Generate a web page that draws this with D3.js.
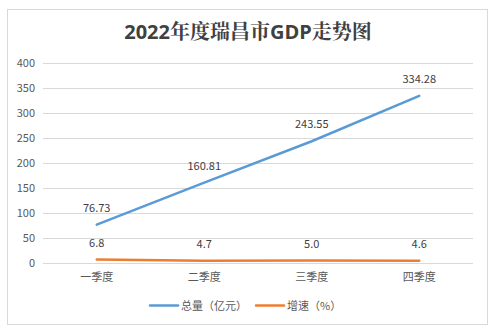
<!DOCTYPE html>
<html>
<head>
<meta charset="utf-8">
<script src="https://cdn.jsdelivr.net/npm/d3@7"></script>
<style>
  html, body { margin: 0; padding: 0; background: #fff; }
  svg { display: block; }
</style>
</head>
<body>
<svg id="chart" width="493" height="332"></svg>
<script>
// Quarterly GDP of Ruichang, 2022
const quarters = ["一季度", "二季度", "三季度", "四季度"];
const totalValues = [76.73, 160.81, 243.55, 334.28];   // 总量（亿元）
const growthValues = [6.8, 4.7, 5.0, 4.6];            // 增速（%）
const growthLabels = ["6.8", "4.7", "5.0", "4.6"];
const yTicks = [0, 50, 100, 150, 200, 250, 300, 350, 400];
const seriesNames = ["总量（亿元）", "增速（%）"];

const font = "'Microsoft YaHei','Noto Sans CJK SC','Noto Sans',sans-serif";
const svg = d3.select("#chart");

// outer frame
svg.append("rect")
  .attr("x", 7.5).attr("y", 9.5).attr("width", 480).attr("height", 315)
  .attr("fill", "#fff").attr("stroke", "#d9d9d9").attr("stroke-width", 1);

// title: sans digits/latin, song-style CJK
svg.append("text")
  .attr("x", 248).attr("y", 39)
  .attr("text-anchor", "middle")
  .attr("font-family", "'Open Sans','Noto Serif CJK SC','Noto Sans CJK SC',sans-serif")
  .attr("font-size", 20).attr("font-weight", "bold")
  .attr("fill", "#404040")
  .text("2022年度瑞昌市GDP走势图");

const plot = { left: 43, right: 473, top: 63, bottom: 263 };

const x = d3.scaleBand().domain(quarters).range([plot.left, plot.right]);
const y = d3.scaleLinear().domain([0, 400]).range([plot.bottom, plot.top]);

// gridlines
svg.append("g").selectAll("line").data(yTicks).join("line")
  .attr("x1", plot.left).attr("x2", plot.right)
  .attr("y1", d => Math.round(y(d)) + 0.5).attr("y2", d => Math.round(y(d)) + 0.5)
  .attr("stroke", "#d9d9d9").attr("stroke-width", 1);

// y axis labels
const yAxis = d3.axisLeft(y).tickValues(yTicks).tickSize(0).tickPadding(8);
const gy = svg.append("g").attr("transform", `translate(${plot.left},0)`).call(yAxis);
gy.select(".domain").remove();
gy.selectAll("text").attr("font-family", font).attr("font-size", 11).attr("fill", "#595959");

// x axis labels
const xAxis = d3.axisBottom(x).tickSize(0).tickPadding(10);
const gx = svg.append("g").attr("transform", `translate(0,${plot.bottom})`).call(xAxis);
gx.select(".domain").remove();
gx.selectAll("text").attr("font-family", font).attr("font-size", 11).attr("fill", "#595959");

const cx = d => x(d) + x.bandwidth() / 2;
const line = d3.line().x(d => cx(d.q)).y(d => y(d.v));

const totalData = quarters.map((q, i) => ({ q, v: totalValues[i], label: String(totalValues[i]) }));
const growthData = quarters.map((q, i) => ({ q, v: growthValues[i], label: growthLabels[i] }));

svg.append("path").datum(totalData)
  .attr("d", line).attr("fill", "none")
  .attr("stroke", "#5b9bd5").attr("stroke-width", 2.5).attr("stroke-linecap", "round");

svg.append("path").datum(growthData)
  .attr("d", line).attr("fill", "none")
  .attr("stroke", "#ed7d31").attr("stroke-width", 2.5).attr("stroke-linecap", "round");

// data labels
[totalData, growthData].forEach(data => {
  svg.append("g").selectAll("text").data(data).join("text")
    .attr("x", d => cx(d.q)).attr("y", d => y(d.v) - 13)
    .attr("text-anchor", "middle")
    .attr("font-family", font).attr("font-size", 11).attr("fill", "#404040")
    .text(d => d.label);
});

// legend
const legend = [
  { name: seriesNames[0], color: "#5b9bd5", x: 150 },
  { name: seriesNames[1], color: "#ed7d31", x: 256 }
];
const lg = svg.append("g");
legend.forEach(l => {
  lg.append("line")
    .attr("x1", l.x).attr("x2", l.x + 28).attr("y1", 305.5).attr("y2", 305.5)
    .attr("stroke", l.color).attr("stroke-width", 2.5).attr("stroke-linecap", "round");
  lg.append("text")
    .attr("x", l.x + 31).attr("y", 309.5)
    .attr("font-family", font).attr("font-size", 11).attr("fill", "#595959")
    .text(l.name);
});
</script>
</body>
</html>
